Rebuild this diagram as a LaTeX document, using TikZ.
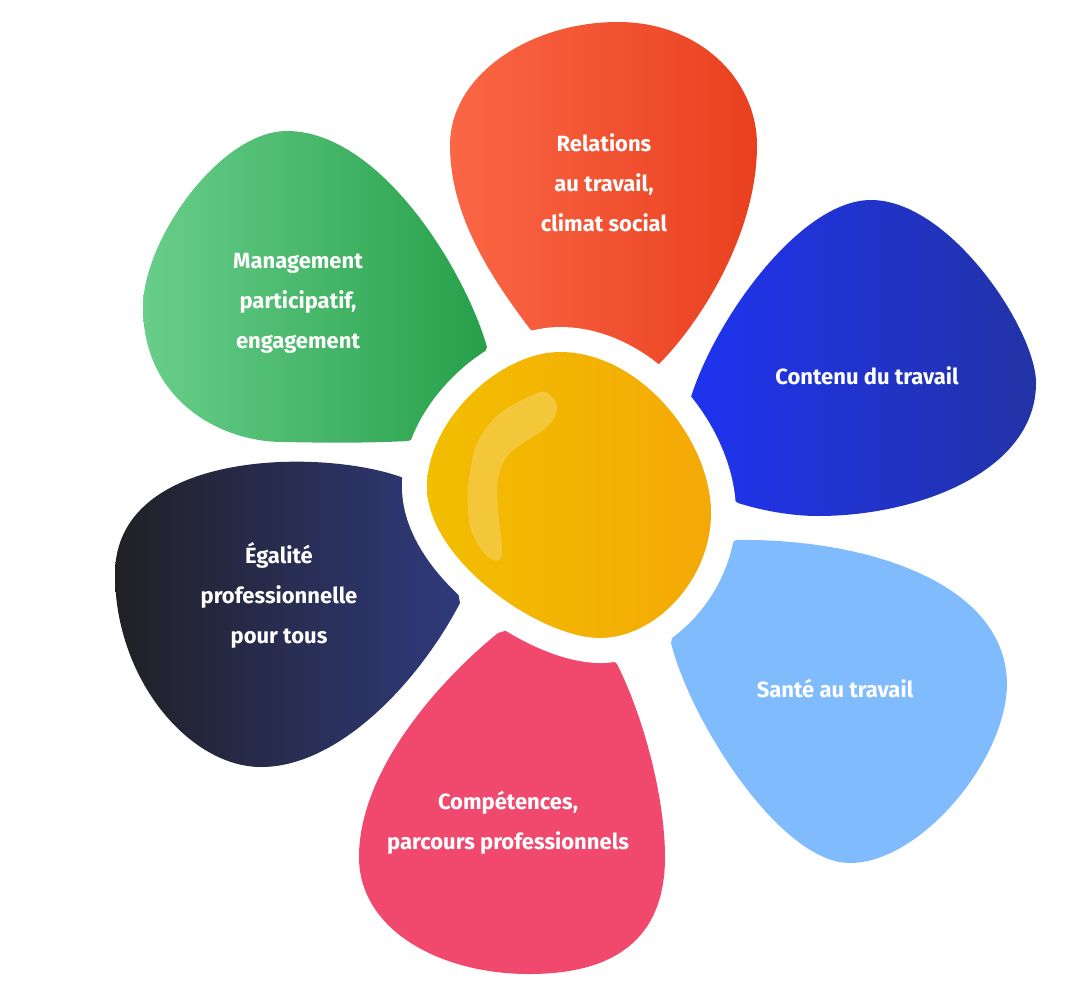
\documentclass[tikz,border=0pt]{standalone}
\usepackage{fontspec}
\setmainfont{Fira Sans}
\definecolor{redA}{HTML}{FA6746}
\definecolor{redB}{HTML}{E9401F}
\definecolor{blueA}{HTML}{1F33F2}
\definecolor{blueB}{HTML}{2233A6}
\definecolor{ltblue}{HTML}{80BBFD}
\definecolor{pinkc}{HTML}{F1496E}
\definecolor{darkA}{HTML}{212026}
\definecolor{darkB}{HTML}{2F3A7C}
\definecolor{greenA}{HTML}{68CE8A}
\definecolor{greenB}{HTML}{27A04A}
\definecolor{yelA}{HTML}{F2BE00}
\definecolor{yelB}{HTML}{F4A906}
\definecolor{yelH}{HTML}{F4C73A}
\tikzset{
  lbl/.style={text=white, align=center, font=\fontsize{16.5}{30}\selectfont\bfseries, inner sep=0pt},
  blob/.style={insert path={(560,352) .. controls (640,352) and (711,440) .. (711,513)
     .. controls (711,580) and (655,638) .. (600,638)
     .. controls (540,638) and (427,560) .. (427,487)
     .. controls (427,420) and (500,352) .. (560,352) -- cycle}},
}
\begin{document}
\begin{tikzpicture}[x=0.75pt,y=-0.75pt]
\useasboundingbox (0,0) rectangle (1074,993);
% red petal (top)
\shade[left color=redA, right color=redB]
  (530,329) .. controls (490,276) and (450,215) .. (450,145)
  .. controls (450,75) and (530,22) .. (618,22)
  .. controls (700,22) and (757,80) .. (757,145)
  .. controls (757,235) and (699,324) .. (659,364)
  -- (590,380) -- cycle;
% blue petal (upper right)
\shade[left color=blueA, right color=blueB]
  (691,397) .. controls (715,320) and (800,200) .. (871,200)
  .. controls (950,200) and (1036,330) .. (1036,383)
  .. controls (1036,470) and (920,516) .. (818,516)
  .. controls (790,516) and (760,510) .. (738,503)
  -- (680,460) -- cycle;
% light blue petal (lower right)
\fill[ltblue]
  (736,540) .. controls (860,538) and (1005,580) .. (1007,683)
  .. controls (1007,760) and (920,863) .. (850,863)
  .. controls (780,863) and (690,720) .. (671,643)
  -- (685,575) -- cycle;
% pink petal (bottom)
\fill[pinkc]
  (617,664) .. controls (645,720) and (665,800) .. (665,857)
  .. controls (665,950) and (600,974) .. (529,974)
  .. controls (440,974) and (359,930) .. (359,857)
  .. controls (359,770) and (440,680) .. (498,633)
  -- (560,615) -- cycle;
% dark petal (lower left)
\shade[left color=darkA, right color=darkB]
  (401,477) .. controls (320,448) and (115,450) .. (115,574)
  .. controls (115,680) and (190,767) .. (261,767)
  .. controls (340,767) and (420,680) .. (460,603)
  -- (445,520) -- cycle;
% green petal (upper left)
\shade[left color=greenA, right color=greenB]
  (487,347) .. controls (465,270) and (380,131) .. (287,131)
  .. controls (220,131) and (143,240) .. (143,307)
  .. controls (143,400) and (220,442) .. (283,442)
  .. controls (330,443) and (370,443) .. (408,441)
  -- (460,420) -- cycle;
% white ring around the centre
\draw[white, line width=37.5pt, line join=round, blob];
% yellow centre
\shade[left color=yelA, right color=yelB, blob];
% highlight
\fill[yelH]
  plot[smooth cycle] coordinates {(540,392) (553,398) (557,410) (547,427) (510,453) (498,478) (498,507) (502,553) (495,561) (483,552) (470,527) (468,487) (477,443) (500,413)};
% labels
\node[lbl] (t1) at (604,183) {Relations\\au travail,\\climat social};
\node[lbl] (t2) at (298,303) {Management\\participatif,\\engagement};
\node[lbl] (t3) at (867,376) {Contenu du travail};
\node[lbl] (t4) at (279,595) {Égalité\\professionnelle\\pour tous};
\node[lbl] (t5) at (835,688) {Santé au travail};
\node[lbl] (t6) at (508,823) {Compétences,\\parcours professionnels};
\end{tikzpicture}
\end{document}
